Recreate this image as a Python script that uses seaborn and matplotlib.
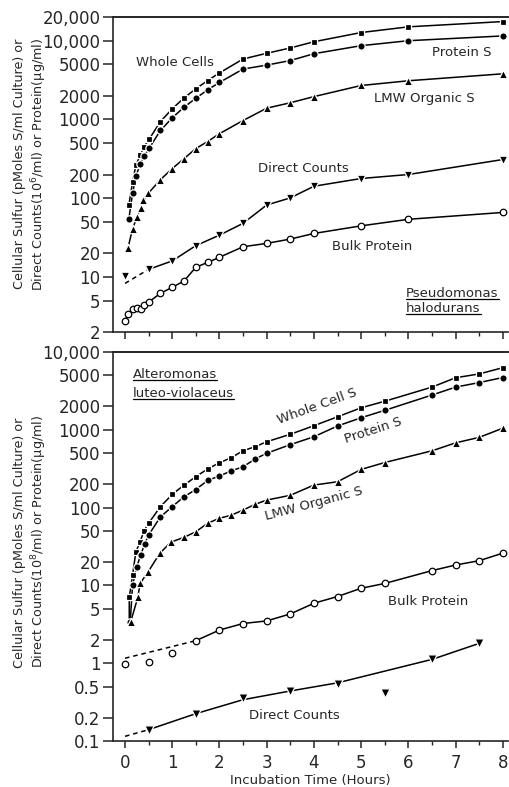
import numpy as np
import pandas as pd
import matplotlib
matplotlib.use("Agg")
import matplotlib.pyplot as plt
import seaborn as sns
from matplotlib.ticker import FixedLocator, FixedFormatter, NullLocator, MultipleLocator
from matplotlib.lines import Line2D
from matplotlib.transforms import IdentityTransform

# ---------------- DATA: top panel (Pseudomonas halodurans) ----------------
top_ws_t = [0.08, 0.16, 0.23, 0.32, 0.40, 0.51, 0.75, 1.0, 1.25, 1.5, 1.75, 2.0, 2.5, 3.0, 3.5, 4.0, 5.0, 6.0, 8.0]
top_whole_cells = [81, 160, 262, 350, 446, 560, 940, 1365, 1880, 2450, 3120, 3900, 5860, 6920, 8090, 9700, 12700, 15000, 17500]
top_protein_s = [54, 115, 190, 270, 340, 430, 725, 1050, 1430, 1860, 2380, 2950, 4370, 4900, 5600, 6840, 8650, 10000, 11500]

top_lmw_t = [0.06, 0.16, 0.25, 0.33, 0.39, 0.49, 0.75, 1.0, 1.25, 1.5, 1.75, 2.0, 2.5, 3.0, 3.5, 4.0, 5.0, 6.0, 8.0]
top_lmw = [23, 41, 57, 75, 94, 115, 172, 238, 318, 427, 525, 660, 970, 1390, 1630, 1950, 2700, 3100, 3800]

top_dc_t = [0, 0.5, 1.0, 1.5, 2.0, 2.5, 3.0, 3.5, 4.0, 5.0, 6.0, 8.0]
top_dc = [10.4, 12.5, 16, 25, 34, 48, 82, 101, 142, 178, 200, 310]
top_dc_extrap_t = [0, 0.5]
top_dc_extrap = [8.3, 12.5]

top_bp_t = [0, 0.07, 0.16, 0.25, 0.34, 0.41, 0.5, 0.75, 1.0, 1.25, 1.5, 1.75, 2.0, 2.5, 3.0, 3.5, 4.0, 5.0, 6.0, 8.0]
top_bulk_protein = [2.8, 3.4, 3.9, 4.0, 3.9, 4.4, 4.8, 6.2, 7.4, 8.9, 13.3, 15.3, 17.8, 24.2, 26.7, 30.3, 35.7, 44.6, 54, 66]

top_yticks = [2, 5, 10, 20, 50, 100, 200, 500, 1000, 2000, 5000, 10000, 20000]
top_ylabels = ["2", "5", "10", "20", "50", "100", "200", "500", "1000", "2000", "5000", "10,000", "20,000"]

# ---------------- DATA: bottom panel (Alteromonas luteo-violaceus) ----------------
bot_ws_t = [0.09, 0.09, 0.16, 0.23, 0.32, 0.40, 0.5, 0.75, 1.0, 1.25, 1.5, 1.75, 2.0, 2.25, 2.5, 2.75, 3.0, 3.5, 4.0, 4.5, 5.0, 5.5, 6.5, 7.0, 7.5, 8.0]
bot_whole_cell_s = [3.4, 7.0, 13.6, 27, 36.5, 50, 63, 103, 148, 195, 250, 314, 378, 438, 540, 605, 703, 876, 1130, 1470, 1920, 2330, 3540, 4670, 5230, 6290]

bot_ps_t = [0.11, 0.16, 0.25, 0.33, 0.42, 0.5, 0.75, 1.0, 1.25, 1.5, 1.75, 2.0, 2.25, 2.5, 2.75, 3.0, 3.5, 4.0, 4.5, 5.0, 5.5, 6.5, 7.0, 7.5, 8.0]
bot_protein_s = [3.4, 10.1, 17.4, 24.5, 34.5, 44.5, 76, 103, 138, 171, 224, 255, 297, 335, 420, 500, 645, 815, 1120, 1430, 1780, 2800, 3540, 4050, 4700]

bot_lmw_t = [0.12, 0.27, 0.32, 0.49, 0.74, 0.97, 1.25, 1.5, 1.75, 2.0, 2.25, 2.5, 2.75, 3.0, 3.5, 4.0, 4.5, 5.0, 5.5, 6.5, 7.0, 7.5, 8.0]
bot_lmw = [3.4, 7.0, 10.6, 15, 26, 36, 41.5, 49, 63, 73, 80, 93, 110, 125, 144, 195, 215, 310, 380, 537, 680, 800, 1050]

bot_bp_t = [0, 0.5, 1.0, 1.5, 2.0, 2.5, 3.0, 3.5, 4.0, 4.5, 5.0, 5.5, 6.5, 7.0, 7.5, 8.0]
bot_bulk_protein = [0.98, 1.05, 1.34, 1.95, 2.67, 3.24, 3.5, 4.3, 5.9, 7.2, 9.2, 10.6, 15.5, 18.3, 20.8, 26]
bot_bp_line_t = [1.5, 2.0, 2.5, 3.0, 3.5, 4.0, 4.5, 5.0, 5.5, 6.5, 7.0, 7.5, 8.0]
bot_bp_line = [1.95, 2.67, 3.24, 3.5, 4.3, 5.9, 7.2, 9.2, 10.6, 15.5, 18.3, 20.8, 26]
bot_bp_extrap_t = [0, 1.5]
bot_bp_extrap = [1.16, 1.95]

bot_dc_t = [0.5, 1.5, 2.5, 3.5, 4.5, 5.5, 6.5, 7.5]
bot_dc = [0.14, 0.225, 0.36, 0.44, 0.54, 0.41, 1.12, 1.8]
bot_dc_line_t = [0.5, 1.5, 2.5, 3.5, 4.5, 6.5, 7.5]
bot_dc_line = [0.14, 0.225, 0.34, 0.44, 0.56, 1.12, 1.8]
bot_dc_extrap_t = [0, 0.5]
bot_dc_extrap = [0.115, 0.14]

bot_yticks = [0.1, 0.2, 0.5, 1, 2, 5, 10, 20, 50, 100, 200, 500, 1000, 2000, 5000, 10000]
bot_ylabels = ["0.1", "0.2", "0.5", "1", "2", "5", "10", "20", "50", "100", "200", "500", "1000", "2000", "5000", "10,000"]

x_ticks = [0, 1, 2, 3, 4, 5, 6, 7, 8]
x_labels = ["0", "1", "2", "3", "4", "5", "6", "7", "8"]

# ---------------- STYLE ----------------
sns.set_style("ticks")
plt.rcParams["font.family"] = ["DejaVu Sans"]
plt.rcParams["mathtext.fontset"] = "dejavusans"

fig = plt.figure(figsize=(5.10, 7.87), dpi=100)
ax_top = fig.add_axes([0.2216, 0.5781, 0.7745, 0.4003])
ax_bot = fig.add_axes([0.2216, 0.0584, 0.7745, 0.4943])

XLIM = (-0.254, 8.11)


def line(ax, t, v, ls="-"):
    sns.lineplot(x=t, y=v, ax=ax, color="black", lw=1.1, ls=ls,
                 estimator=None, sort=False, legend=False)


def marks(ax, t, v, marker, s, filled=True):
    if filled:
        sns.scatterplot(x=t, y=v, ax=ax, marker=marker, s=s, color="black",
                        edgecolor="white", linewidth=0.9, zorder=5, legend=False)
    else:
        sns.scatterplot(x=t, y=v, ax=ax, marker=marker, s=s, color="white",
                        edgecolor="black", linewidth=0.9, zorder=5, legend=False)


def style_axes(ax, yticks, ylabels, show_xlabels):
    ax.set_yscale("log")
    ax.set_xlim(*XLIM)
    ax.set_ylim(yticks[0], yticks[-1])
    ax.yaxis.set_major_locator(FixedLocator(yticks))
    ax.yaxis.set_major_formatter(FixedFormatter(ylabels))
    ax.yaxis.set_minor_locator(NullLocator())
    ax.xaxis.set_major_locator(FixedLocator(x_ticks))
    ax.xaxis.set_minor_locator(MultipleLocator(0.5))
    if show_xlabels:
        ax.xaxis.set_major_formatter(FixedFormatter(x_labels))
    else:
        ax.set_xticklabels([])
    ax.tick_params(axis="y", which="major", direction="out", length=7, width=1.1,
                   labelsize=12, pad=2)
    ax.tick_params(axis="x", which="major", direction="out", length=5, width=1.1,
                   labelsize=12, pad=4)
    ax.tick_params(axis="x", which="minor", direction="out", length=3, width=1.0)
    ax.spines["right"].set_visible(False)
    ax.spines["top"].set_linewidth(1.4)
    ax.spines["left"].set_linewidth(1.2)
    ax.spines["bottom"].set_linewidth(1.2)
    ax.set_xlabel("")
    ax.set_ylabel("")


# ---------------- TOP PANEL ----------------
ax = ax_top
line(ax, top_ws_t, top_whole_cells)
line(ax, top_ws_t, top_protein_s)
line(ax, top_lmw_t, top_lmw)
line(ax, top_dc_t[1:], top_dc[1:])
line(ax, top_dc_extrap_t, top_dc_extrap, ls=(0, (3, 2.5)))
line(ax, top_bp_t, top_bulk_protein)
marks(ax, top_ws_t, top_whole_cells, "s", 22)
marks(ax, top_ws_t, top_protein_s, "o", 28)
marks(ax, top_lmw_t, top_lmw, "^", 36)
marks(ax, top_dc_t, top_dc, "v", 38)
marks(ax, top_bp_t, top_bulk_protein, "o", 22, filled=False)
style_axes(ax, top_yticks, top_ylabels, False)

tfs = 9.5
ax.text(1.06, 5250, "Whole Cells", fontsize=tfs, ha="center", va="center")
ax.text(7.13, 7100, "Protein S", fontsize=tfs, ha="center", va="center")
ax.text(6.34, 1860, "LMW Organic S", fontsize=tfs, ha="center", va="center")
ax.text(3.77, 240, "Direct Counts", fontsize=tfs, ha="center", va="center")
ax.text(5.23, 24.2, "Bulk Protein", fontsize=tfs, ha="center", va="center")
sp1 = ax.text(5.95, 6.2, "Pseudomonas", fontsize=tfs, ha="left", va="center")
sp2 = ax.text(5.95, 4.0, "halodurans", fontsize=tfs, ha="left", va="center")

# ---------------- BOTTOM PANEL ----------------
ax = ax_bot
line(ax, bot_ws_t, bot_whole_cell_s)
line(ax, bot_ps_t, bot_protein_s)
line(ax, bot_lmw_t, bot_lmw)
line(ax, bot_bp_line_t, bot_bp_line)
line(ax, bot_bp_extrap_t, bot_bp_extrap, ls=(0, (3, 2.5)))
line(ax, bot_dc_line_t, bot_dc_line)
line(ax, bot_dc_extrap_t, bot_dc_extrap, ls=(0, (3, 2.5)))
marks(ax, bot_ws_t, bot_whole_cell_s, "s", 22)
marks(ax, bot_ps_t, bot_protein_s, "o", 28)
marks(ax, bot_lmw_t, bot_lmw, "^", 36)
marks(ax, bot_bp_t, bot_bulk_protein, "o", 22, filled=False)
marks(ax, bot_dc_t, bot_dc, "v", 44)
style_axes(ax, bot_yticks, bot_ylabels, True)
ax.set_xlabel("Incubation Time (Hours)", fontsize=9.5, labelpad=2)

sp3 = ax.text(0.16, 5160, "Alteromonas", fontsize=tfs, ha="left", va="center")
sp4 = ax.text(0.16, 2950, "luteo-violaceus", fontsize=tfs, ha="left", va="center")
ax.text(4.06, 2000, "Whole Cell S", fontsize=tfs, ha="center", va="center", rotation=20)
ax.text(5.25, 975, "Protein S", fontsize=tfs, ha="center", va="center", rotation=18)
ax.text(4.0, 113, "LMW Organic S", fontsize=tfs, ha="center", va="center", rotation=15)
ax.text(6.42, 6.3, "Bulk Protein", fontsize=tfs, ha="center", va="center")
ax.text(3.58, 0.21, "Direct Counts", fontsize=tfs, ha="center", va="center")

# ---------------- Y LABELS ----------------
H = 787.0
yfs = 9.2
fig.text(20 / 510, 1 - 164 / H, "Cellular Sulfur (pMoles S/ml Culture) or",
         rotation=90, ha="center", va="center", fontsize=yfs)
fig.text(39 / 510, 1 - 164 / H, r"Direct Counts(10$^{6}$/ml) or Protein(μg/ml)",
         rotation=90, ha="center", va="center", fontsize=yfs)
fig.text(20 / 510, 1 - 543 / H, "Cellular Sulfur (pMoles S/ml Culture) or",
         rotation=90, ha="center", va="center", fontsize=yfs)
fig.text(39 / 510, 1 - 541 / H, r"Direct Counts(10$^{8}$/ml) or Protein(μg/ml)",
         rotation=90, ha="center", va="center", fontsize=yfs)

# ---------------- underlines for species names ----------------
fig.canvas.draw()
renderer = fig.canvas.get_renderer()
for t in (sp1, sp2, sp3, sp4):
    bb = t.get_window_extent(renderer)
    fig.add_artist(Line2D([bb.x0, bb.x1], [bb.y0 + 1, bb.y0 + 1], color="black",
                          lw=0.9, transform=IdentityTransform()))

fig.savefig("out.png", dpi=100)
